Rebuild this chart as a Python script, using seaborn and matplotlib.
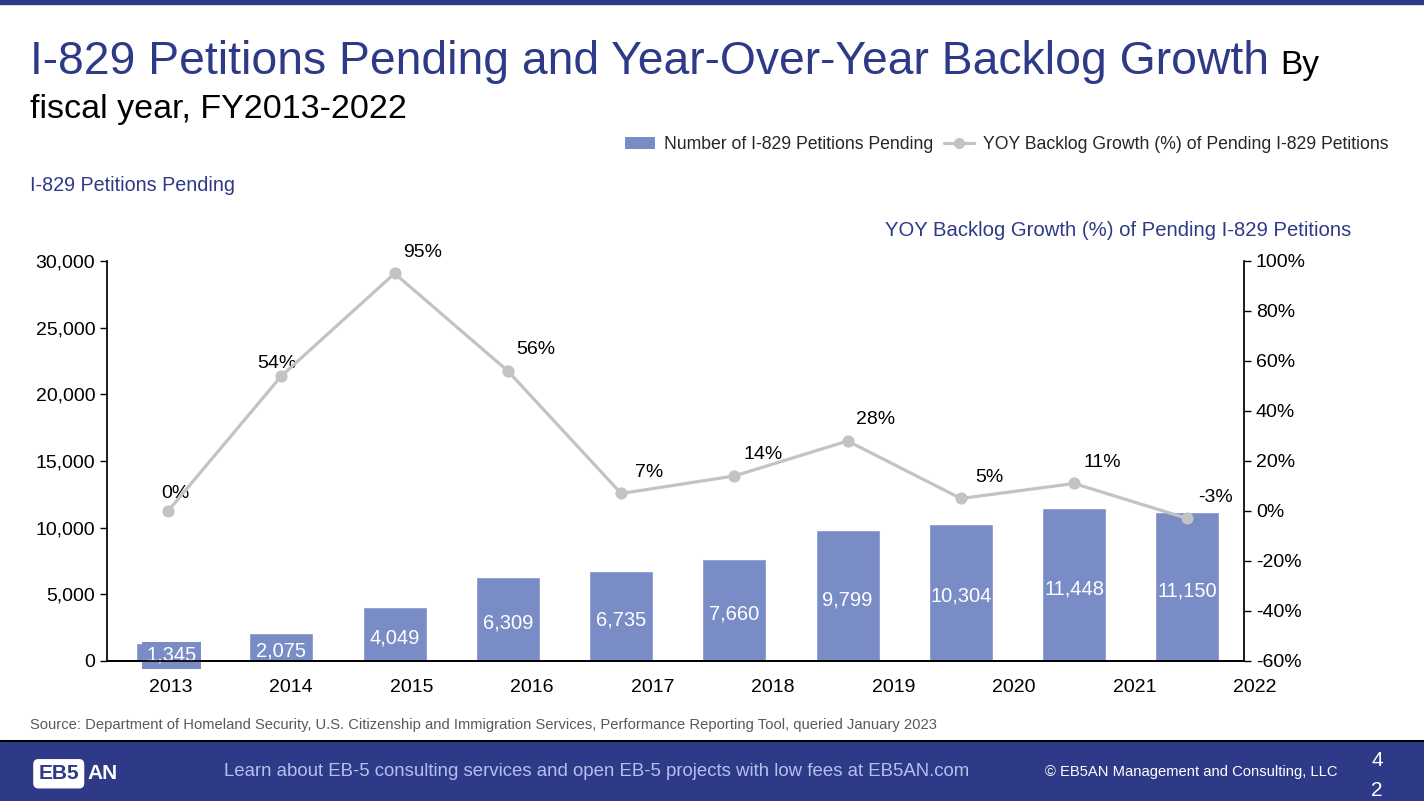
import numpy as np
import matplotlib
matplotlib.use("Agg")
import matplotlib.pyplot as plt
import seaborn as sns
from matplotlib.patches import Rectangle, Patch
from matplotlib.lines import Line2D
from matplotlib.ticker import FuncFormatter, MultipleLocator

# data
years = ["2013", "2014", "2015", "2016", "2017", "2018", "2019", "2020", "2021", "2022"]
pending = [1345, 2075, 4049, 6309, 6735, 7660, 9799, 10304, 11448, 11150]
yoy_growth = [0, 54, 95, 56, 7, 14, 28, 5, 11, -3]

NAVY = "#2E3A87"
BAR = "#7A8CC6"
GREY = "#C3C3C3"

sns.set_theme(style="white")
plt.rcParams["font.family"] = ["Liberation Sans", "DejaVu Sans"]

fig = plt.figure(figsize=(14.24, 8.01), dpi=100)
ax = fig.add_axes([0.0751, 0.1748, 0.7985, 0.4994])
ax2 = ax.twinx()

pos = np.arange(len(years))

# bars
sns.barplot(x=pos, y=pending, color=BAR, saturation=1, width=0.565, ax=ax, zorder=2)
ax.set_ylim(0, 30000)
ax.set_xlim(-0.54, 9.5)
ax.yaxis.set_major_locator(MultipleLocator(5000))
ax.yaxis.set_major_formatter(FuncFormatter(lambda v, p: f"{int(v):,}"))
ax.set_xticks([])
ax.set_xlabel("")

for i, v in enumerate(pending):
    if v < 2000:
        # label does not fit, PowerPoint draws it in a filled box
        ax.text(i + 0.03, v / 2 - 250, f"{v:,}", ha="center", va="center", color="white",
                fontsize=14.5, zorder=3,
                bbox=dict(boxstyle="square,pad=0.2", fc=BAR, ec="none"))
    else:
        ax.text(i, v / 2 - 300, f"{v:,}", ha="center", va="center", color="white",
                fontsize=14.5, zorder=3)

# x labels are spread evenly across the plot, not under the bars
label_step = 1.064
for i, y in enumerate(years):
    ax.text(i * label_step + 0.02, -0.045, y, transform=ax.get_xaxis_transform(),
            ha="center", va="top", fontsize=14, color="black", clip_on=False)

# growth line
sns.lineplot(x=pos, y=yoy_growth, ax=ax2, color=GREY, linewidth=2.3,
             marker="o", markersize=8, markeredgecolor=GREY, zorder=4)
ax2.set_ylim(-60, 100)
ax2.yaxis.set_major_locator(MultipleLocator(20))
ax2.yaxis.set_major_formatter(FuncFormatter(lambda v, p: f"{int(v)}%"))
ax2.set_xlim(-0.54, 9.5)

offsets = {0: (0.06, 7), 1: (-0.04, 5)}
for i, g in enumerate(yoy_growth):
    dx, dy = offsets.get(i, (0.25, 8.5))
    ax2.text(i + dx, g + dy, f"{g}%", ha="center", va="center", fontsize=14, color="black")

for a in (ax, ax2):
    a.spines["top"].set_visible(False)
    for s in ("left", "right", "bottom"):
        a.spines[s].set_color("black")
    a.tick_params(axis="y", labelsize=14, colors="black", length=5, width=1)
    a.grid(False)
ax.spines["right"].set_visible(False)
ax2.spines["left"].set_visible(False)
ax.tick_params(axis="y", left=True, direction="out")
ax2.tick_params(axis="y", right=True, direction="out")

# axis titles
fig.text(0.021, 0.768, "I-829 Petitions Pending", color=NAVY, fontsize=14.2, va="center")
fig.text(0.949, 0.712, "YOY Backlog Growth (%) of Pending I-829 Petitions",
         color=NAVY, fontsize=14.6, ha="right", va="center")

# legend
handles = [Patch(facecolor=BAR, edgecolor="none", label="Number of I-829 Petitions Pending"),
           Line2D([0], [0], color=GREY, lw=2.3, marker="o", markersize=7,
                  label="YOY Backlog Growth (%) of Pending I-829 Petitions")]
fig.legend(handles=handles, loc="center right", bbox_to_anchor=(0.986, 0.819), ncol=2,
           frameon=False, fontsize=12.7, handlelength=1.7, handletextpad=0.5,
           columnspacing=0.6)

# title
title = fig.text(0.021, 0.907, "I-829 Petitions Pending and Year-Over-Year Backlog Growth",
                 color=NAVY, fontsize=33.3, va="baseline")
fig.canvas.draw()
bb = title.get_window_extent()
fig.text(bb.x1 / fig.bbox.width + 0.008, 0.907, "By", color="black", fontsize=24,
         va="baseline")
fig.text(0.021, 0.853, "fiscal year, FY2013-2022", color="black", fontsize=24.5, va="baseline")

# source
fig.text(0.021, 0.095, "Source: Department of Homeland Security, U.S. Citizenship and Immigration "
         "Services, Performance Reporting Tool, queried January 2023",
         color="#595959", fontsize=10.6, va="center")

# top and bottom bands
fig.patches.append(Rectangle((0, 0.995), 1, 0.005, transform=fig.transFigure,
                             color=NAVY, zorder=0))
fig.patches.append(Rectangle((0, 0), 1, 0.0737, transform=fig.transFigure,
                             color=NAVY, zorder=0))
fig.lines.append(Line2D([0, 1], [0.0745, 0.0745], transform=fig.transFigure,
                        color="black", lw=1.5))
fig.text(0.027, 0.034, "EB5", color=NAVY, fontsize=15, fontweight="bold", va="center",
         bbox=dict(boxstyle="round,pad=0.25", fc="white", ec="none"))
fig.text(0.0615, 0.034, "AN", color="white", fontsize=15, fontweight="bold", va="center")
fig.text(0.419, 0.037, "Learn about EB-5 consulting services and open EB-5 projects with low fees at EB5AN.com",
         color="#B4C0EC", fontsize=13.4, ha="center", va="center")
fig.text(0.8364, 0.036, "\u00a9 EB5AN Management and Consulting, LLC",
         color="white", fontsize=10.6, ha="center", va="center")
fig.text(0.967, 0.051, "4", color="white", fontsize=15, ha="center", va="center")
fig.text(0.967, 0.013, "2", color="white", fontsize=15, ha="center", va="center")

fig.savefig("out.png", dpi=100)
